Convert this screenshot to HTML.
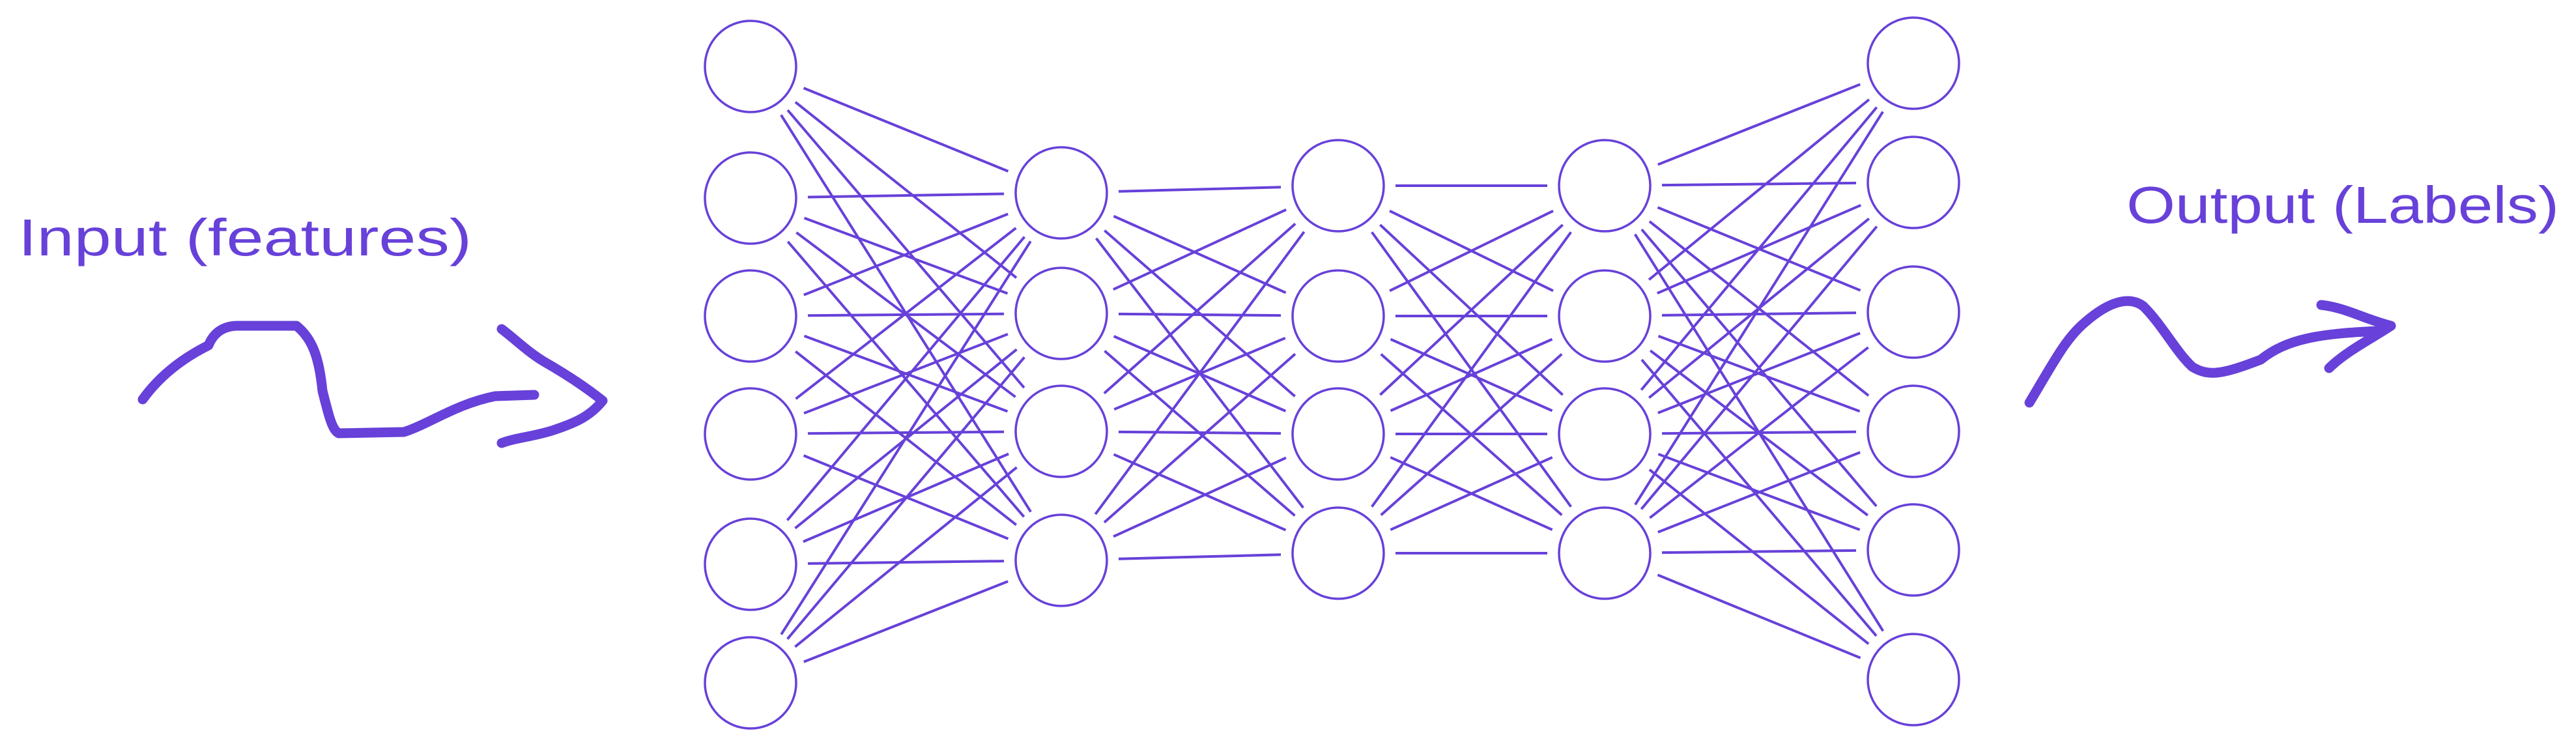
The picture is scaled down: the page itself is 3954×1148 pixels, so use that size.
<!DOCTYPE html>
<html><head><meta charset="utf-8"><style>
html,body{margin:0;padding:0;background:#fff;width:3954px;height:1148px;overflow:hidden}
svg{display:block}
text{font-family:"Liberation Sans",sans-serif;fill:#6741d9}
</style></head><body>
<svg id="nn" width="3954" height="1148" viewBox="0 0 3954 1148" xmlns="http://www.w3.org/2000/svg">
<g id="edges"></g>
<g id="nodes"></g>
<text x="28" y="392" font-size="80" textLength="696" lengthAdjust="spacingAndGlyphs">Input (features)</text>
<text x="3264" y="342" font-size="80" textLength="664" lengthAdjust="spacingAndGlyphs">Output (Labels)</text>
<path fill="none" stroke="#6741d9" stroke-width="15" stroke-linecap="round" stroke-linejoin="round"
 d="M219 613 C250 570 290 545 320 530 C330 505 350 500 365 500 L455 500 C480 520 490 550 495 600 C505 640 510 660 520 665 L620 663 C660 650 700 620 760 608 L820 606 M770 505 C790 520 810 540 835 555 C870 575 900 595 925 615 C905 640 880 650 850 660 C820 670 790 672 770 680"/>
<path fill="none" stroke="#6741d9" stroke-width="15" stroke-linecap="round" stroke-linejoin="round"
 d="M3115 618 C3150 560 3170 520 3200 495 C3240 460 3270 455 3290 470 C3320 500 3340 540 3365 563 C3390 578 3410 575 3470 552 C3510 520 3560 512 3650 508 M3563 468 C3600 472 3630 490 3670 500 C3640 520 3600 540 3575 565"/>
</svg>
<script>
const layerX = [1152, 1629, 2054, 2463, 2937];
const layer0Y = [102, 304, 485, 666, 866, 1048];
const layer1Y = [296, 481, 662, 860];
const layer2Y = [285, 485, 666, 849];
const layer3Y = [285, 485, 666, 849];
const layer4Y = [97, 280, 479, 662, 844, 1043];
const layersY = [layer0Y, layer1Y, layer2Y, layer3Y, layer4Y];
const R = 70, GAP = 18, COLOR = '#6741d9';
const NS = 'http://www.w3.org/2000/svg';
const edges = document.getElementById('edges');
const nodes = document.getElementById('nodes');
for (let l = 0; l < layersY.length - 1; l++) {
  layersY[l].forEach((y1, i) => {
    layersY[l + 1].forEach((y2, j) => {
      const x1 = layerX[l], x2 = layerX[l + 1];
      const dx = x2 - x1, dy = y2 - y1, d = Math.hypot(dx, dy);
      const ux = dx / d, uy = dy / d, off = R + GAP;
      const ln = document.createElementNS(NS, 'line');
      
      
      ln.setAttribute('x1', x1 + ux * off); ln.setAttribute('y1', y1 + uy * off);
      ln.setAttribute('x2', x2 - ux * off); ln.setAttribute('y2', y2 - uy * off);
      ln.setAttribute('stroke', COLOR); ln.setAttribute('stroke-width', '4');
      edges.appendChild(ln);
    });
  });
}
layersY.forEach((ys, l) => {
  ys.forEach(y => {
    const c = document.createElementNS(NS, 'ellipse');
    
    
    c.setAttribute('cx', layerX[l]); c.setAttribute('cy', y);
    c.setAttribute('rx', R); c.setAttribute('ry', R);
    c.setAttribute('fill', '#fff'); c.setAttribute('stroke', COLOR); c.setAttribute('stroke-width', '3.5');
    nodes.appendChild(c);
  });
});
</script>
</body></html>
